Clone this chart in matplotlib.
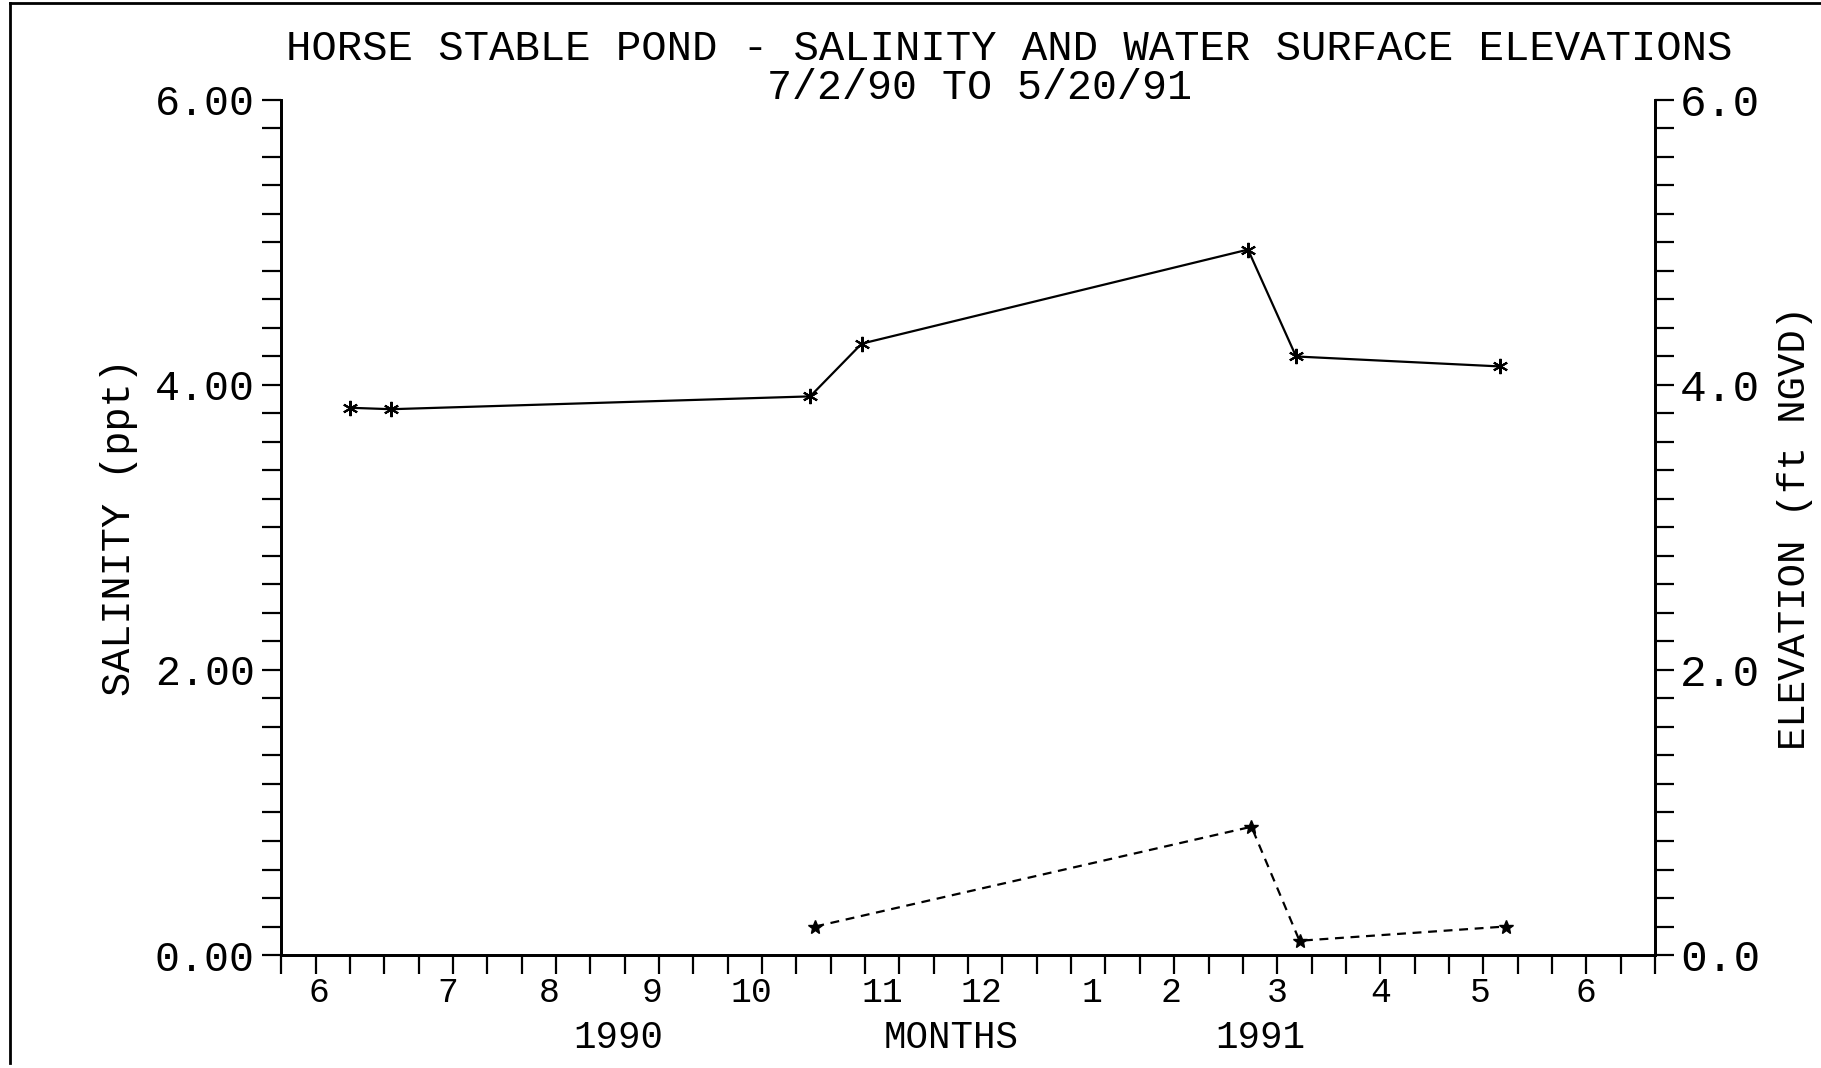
import numpy as np
import matplotlib.pyplot as plt
from matplotlib.lines import Line2D

# x axis = days counted from the left end of the time axis (ticks every 10 days)
sal_days = [20, 32, 154, 169, 281.5, 295.5, 355]
salinity = [3.84, 3.83, 3.92, 4.29, 4.95, 4.20, 4.13]

elev_days = [155.5, 282.5, 296.5, 356.5]
elevation = [0.20, 0.90, 0.10, 0.20]

month_pos = [11, 48.5, 78, 108, 137, 175, 204, 236, 259, 290, 320, 349, 380]
month_lab = ['6', '7', '8', '9', '10', '11', '12', '1', '2', '3', '4', '5', '6']

year_pos = [98, 195, 285]
year_lab = ['1990', 'MONTHS', '1991']

font = ['Liberation Mono', 'DejaVu Sans Mono']
plt.rcParams['font.family'] = font

fig = plt.figure(figsize=(18.21, 10.68), dpi=100)
ax = fig.add_axes([0.1545, 0.1058, 0.7543, 0.8006])
ax2 = ax.twinx()

ax.plot(sal_days, salinity, color='black', lw=1.6, marker=(6, 2, 0),
        ms=11, mew=1.5)
ax2.plot(elev_days, elevation, color='black', lw=1.6, ls=(0, (4, 3)),
         marker='*', ms=10)

ax.set_xlim(0, 400)
ax.set_ylim(0, 6)
ax2.set_ylim(0, 6)

# ticks: every 10 days, month numbers as separate (minor) labels
ax.xaxis.remove_overlapping_locs = False
ax.set_xticks(np.arange(0, 401, 10))
ax.set_xticklabels([])
ax.set_xticks(month_pos, minor=True)
ax.set_xticklabels(month_lab, minor=True)
ax.tick_params(axis='x', which='major', direction='out', length=14, width=1.6)
ax.tick_params(axis='x', which='minor', length=0, labelsize=25, pad=15)

ax.set_yticks(np.arange(0, 6.01, 0.2), minor=True)
ax.set_yticks([0, 2, 4, 6])
ax.set_yticklabels(['0.00', '2.00', '4.00', '6.00'])
ax.tick_params(axis='y', which='both', direction='out', length=14, width=1.6,
               labelsize=30, pad=5)

ax2.set_yticks(np.arange(0, 6.01, 0.2), minor=True)
ax2.set_yticks([0, 2, 4, 6])
ax2.set_yticklabels(['0.0', '2.0', '4.0', '6.0'])
ax2.tick_params(axis='y', which='both', direction='out', length=14, width=1.6,
                labelsize=32, pad=4)

for a in (ax, ax2):
    a.spines['top'].set_visible(False)
    for s in a.spines.values():
        s.set_linewidth(2)

ax.set_ylabel('SALINITY (ppt)', fontsize=29, labelpad=12)
ax2.set_ylabel('ELEVATION (ft NGVD)', fontsize=28, labelpad=12)

for p, lab in zip(year_pos, year_lab):
    ax.text(p, -0.097, lab, transform=ax.get_xaxis_transform(),
            ha='center', va='center', fontsize=27)

fig.text(0.554, 0.954, 'HORSE STABLE POND - SALINITY AND WATER SURFACE ELEVATIONS',
         ha='center', va='center', fontsize=30.5)
fig.text(0.538, 0.918, '7/2/90 TO 5/20/91', ha='center', va='center',
         fontsize=30)

# page edge from the scanned sheet
fig.add_artist(Line2D([0.0055, 0.0055], [0.005, 0.997], color='black', lw=2))
fig.add_artist(Line2D([0.0055, 1.0], [0.997, 0.997], color='black', lw=2))

plt.savefig('out.png', dpi=100)
